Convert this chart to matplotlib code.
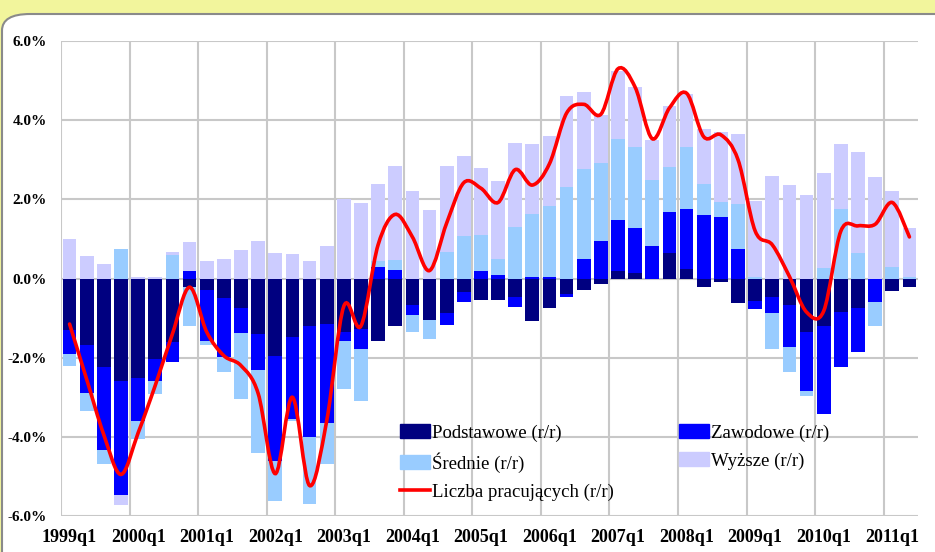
import numpy as np
import matplotlib
matplotlib.use("Agg")
import matplotlib.pyplot as plt
from matplotlib.path import Path
from matplotlib.patches import PathPatch, FancyBboxPatch, Rectangle
from matplotlib.lines import Line2D

# quarters 1999q1 .. 2011q2
years = list(range(1999, 2012))
tick_labels = ["%dq1" % y for y in years]

# contributions to employment growth, y/y, in %
podstawowe = [-1.31, -1.69, -2.24, -2.58, -2.52, -2.03, -1.61, -0.22, -0.29, -0.5,
              -0.74, -1.41, -1.95, -1.47, -1.21, -1.15, -1.36, -1.27, -1.58, -1.21,
              -0.68, -1.06, -0.88, -0.35, -0.54, -0.54, -0.47, -1.08, -0.74, -0.39,
              -0.29, -0.15, 0.18, 0.15, 0.0, 0.64, 0.24, -0.22, -0.09, -0.62,
              -0.57, -0.47, -0.68, -1.34, -1.21, -0.85, -0.74, 0.0, -0.32, -0.22]
zawodowe = [-0.59, -1.21, -2.09, -2.9, -1.09, -0.55, -0.5, 0.19, -1.29, -1.49,
            -0.64, -0.9, -2.65, -2.08, -2.8, -2.5, -0.21, -0.51, 0.3, 0.22,
            -0.25, 0.0, -0.3, -0.25, 0.2, 0.1, -0.24, 0.05, 0.05, -0.08,
            0.5, 0.94, 1.31, 1.13, 0.83, 1.05, 1.52, 1.61, 1.55, 0.75,
            -0.2, -0.41, -1.04, -1.51, -2.21, -1.39, -1.12, -0.6, 0.0, 0.0]
srednie = [-0.3, -0.46, -0.35, 0.75, -0.45, -0.33, 0.6, -0.97, -0.1, -0.38,
           -1.66, -2.1, -1.03, -0.05, -1.68, -1.03, -1.22, -1.32, 0.15, 0.25,
           -0.43, -0.46, 0.66, 1.07, 0.89, 0.4, 1.3, 1.57, 1.77, 2.32,
           2.27, 1.97, 2.04, 2.04, 1.65, 1.12, 1.57, 0.78, 0.38, 1.14,
           0.05, -0.9, -0.65, -0.11, 0.27, 1.76, 0.64, -0.59, 0.3, 0.05]
wyzsze = [1.0, 0.58, 0.37, -0.25, 0.03, 0.05, 0.08, 0.73, 0.44, 0.5,
          0.71, 0.96, 0.64, 0.62, 0.44, 0.81, 2.01, 1.9, 1.94, 2.36,
          2.21, 1.72, 2.19, 2.03, 1.71, 1.96, 2.12, 1.79, 1.79, 2.3,
          1.94, 1.21, 1.72, 1.53, 1.01, 1.54, 1.34, 1.39, 1.78, 1.75,
          1.9, 2.6, 2.37, 2.12, 2.39, 1.64, 2.55, 2.56, 1.9, 1.22]
pracujacy = [-1.15, -2.55, -3.95, -4.95, -3.9, -2.7, -1.4, -0.22, -1.35, -1.95,
             -2.2, -2.9, -4.93, -3.0, -5.23, -3.6, -0.7, -1.2, 0.85, 1.62,
             1.05, 0.2, 1.4, 2.42, 2.28, 1.92, 2.75, 2.36, 2.9, 4.18,
             4.4, 4.15, 5.3, 4.83, 3.53, 4.31, 4.68, 3.58, 3.63, 3.0,
             1.2, 0.85, 0.05, -0.85, -0.82, 1.2, 1.33, 1.37, 1.92, 1.05]

names = ["Podstawowe (r/r)", "Zawodowe (r/r)", "Średnie (r/r)", "Wyższe (r/r)"]
colors = ["#000080", "#0000ff", "#99ccff", "#ccccff"]
line_name = "Liczba pracujących (r/r)"

font = ["Liberation Serif", "DejaVu Serif"]

fig = plt.figure(figsize=(9.35, 5.52), dpi=100)
fig.patch.set_facecolor("white")

# yellow band and rounded panel behind the chart
fig.patches.append(Rectangle((0, 0), 1, 1, transform=fig.transFigure,
                             facecolor="#f2f59c", edgecolor="none", zorder=-3))
fig.patches.append(FancyBboxPatch((2 / 935, -0.05), 1.1, 1 - 14 / 552 + 0.05,
                                  boxstyle="round,pad=0,rounding_size=0.03",
                                  transform=fig.transFigure, facecolor="white",
                                  edgecolor="#8a8a8a", linewidth=1.5, zorder=-2))

ax = fig.add_axes([61 / 935, 36 / 552, 857 / 935, 475 / 552])
ax.set_facecolor("none")

n = len(podstawowe)
x = np.arange(n)
pos = np.zeros(n)
neg = np.zeros(n)
for vals, c in zip([podstawowe, zawodowe, srednie, wyzsze], colors):
    v = np.array(vals)
    bottom = np.where(v >= 0, pos, neg)
    ax.bar(x, v, width=0.8, bottom=bottom, color=c, zorder=2)
    pos = pos + np.where(v >= 0, v, 0)
    neg = neg + np.where(v < 0, v, 0)

# smoothed line (bezier through the points, like the spreadsheet)
y = np.array(pracujacy, dtype=float)
px = np.concatenate([[x[0]], x, [x[-1]]])
py = np.concatenate([[y[0]], y, [y[-1]]])
verts = [(x[0], y[0])]
codes = [Path.MOVETO]
for i in range(n - 1):
    p0 = np.array([px[i], py[i]])
    p1 = np.array([px[i + 1], py[i + 1]])
    p2 = np.array([px[i + 2], py[i + 2]])
    p3 = np.array([px[i + 3], py[i + 3]])
    c1 = p1 + (p2 - p0) / 6.0
    c2 = p2 - (p3 - p1) / 6.0
    verts += [tuple(c1), tuple(c2), tuple(p2)]
    codes += [Path.CURVE4] * 3
ax.add_patch(PathPatch(Path(verts, codes), facecolor="none", edgecolor="#ff0000",
                       linewidth=2.6, zorder=4, capstyle="round"))

ax.set_xlim(-0.5, n - 0.5)
ax.set_ylim(-6, 6)
ax.set_yticks(np.arange(-6, 6.1, 2))
ax.set_yticklabels(["%.1f%%" % v for v in np.arange(-6, 6.1, 2)],
                   family=font, fontsize=11, fontweight="bold")
ax.set_xticks(np.arange(0, n, 4))
ax.set_xticklabels(tick_labels, family=font, fontsize=13, fontweight="bold")
ax.tick_params(axis="x", length=0, pad=9)
ax.tick_params(axis="y", length=0, pad=10)
for s in ax.spines.values():
    s.set_visible(False)

ax.set_axisbelow(True)
ax.yaxis.grid(True, color="#c8c8c8", linewidth=1.5, zorder=0)
for gx in np.arange(-0.5, n - 1, 4):
    ax.axvline(gx, color="#c8c8c8", linewidth=1.5, zorder=0)

handles = [Rectangle((0, 0), 1, 1, color=colors[0]),
           Rectangle((0, 0), 1, 1, color=colors[2]),
           Line2D([], [], color="#ff0000", linewidth=2.6),
           Rectangle((0, 0), 1, 1, color=colors[1]),
           Rectangle((0, 0), 1, 1, color=colors[3])]
labels = [names[0], names[2], line_name, names[1], names[3]]
ax.legend(handles, labels, ncol=2, frameon=False, loc="upper left",
          bbox_to_anchor=((400 - 61) / 857, (516 - 424) / 475),
          prop={"family": font, "size": 13.5},
          handlelength=1.6, handleheight=0.8, handletextpad=0.1,
          columnspacing=3.5, labelspacing=0.55, borderaxespad=0, borderpad=0)

fig.savefig("out.png", dpi=100)
